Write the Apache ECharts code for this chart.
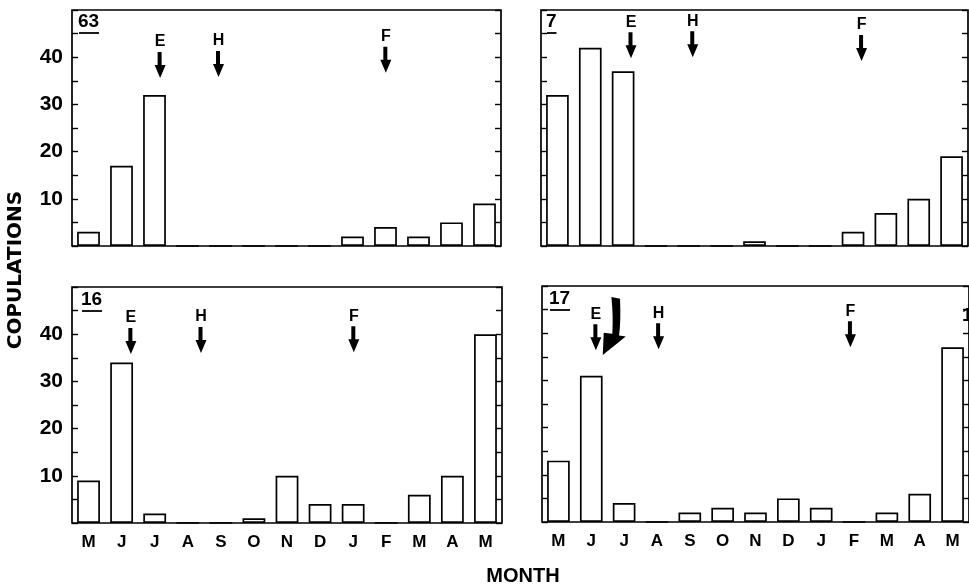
<!DOCTYPE html>
<html>
<head>
<meta charset="utf-8">
<script src="https://cdn.jsdelivr.net/npm/echarts@6/dist/echarts.min.js"></script>
<style>
html, body { margin: 0; padding: 0; background: #fff; }
#main { width: 969px; height: 587px; }
</style>
</head>
<body>
<div id="main"></div>
<script>
// months, May to May
var months = ['M', 'J', 'J', 'A', 'S', 'O', 'N', 'D', 'J', 'F', 'M', 'A', 'M'];

// copulations per month, one array per animal
var counts63 = [3, 17, 32, 0, 0, 0, 0, 0, 2, 4, 2, 5, 9];
var counts7 = [32, 42, 37, 0, 0, 0, 1, 0, 0, 3, 7, 10, 19];
var counts16 = [9, 34, 2, 0, 0, 1, 10, 4, 4, 0, 6, 10, 40];
var counts17 = [13, 31, 4, 0, 2, 3, 2, 5, 3, 0, 2, 6, 37];

var yTicks = [10, 20, 30, 40];
var panelNames = ['63', '7', '16', '17'];

// E, H, F arrows: [position in months from left frame, value of arrow tip]
var letters = ['E', 'H', 'F'];
var arrows63 = [[2.67, 35.6], [4.44, 35.8], [9.51, 36.7]];
var arrows7 = [[2.74, 39.8], [4.62, 40.0], [9.76, 39.2]];
var arrows16 = [[1.78, 35.8], [3.90, 36.0], [8.52, 36.2]];
var arrows17 = [[1.64, 36.4], [3.55, 36.6], [9.39, 37.0]];
var bigArrow17 = [[1.85, 35.4]];

var allCounts = [counts63, counts7, counts16, counts17];
var allArrows = [arrows63, arrows7, arrows16, arrows17];

var font = 'Liberation Sans, Arial, sans-serif';
var arrowPath = 'path://M3,0 L7,0 L7,13 L11,13 L5.5,26 L0,13 L3,13 Z';
var curvedPath = 'path://M9,0 L18,2 Q19,26 17,40 L24,41 L0,60 L1,37 L10,38 Q11,18 9,0 Z';

var myChart = echarts.init(document.getElementById('main'));

var grids = [
    {left: 72, top: 10, width: 429, height: 236},
    {left: 541, top: 10, width: 427, height: 236},
    {left: 72, top: 287, width: 430, height: 236},
    {left: 542, top: 286, width: 429, height: 236}
];

var xAxes = [], yAxes = [], series = [];
for (var g = 0; g < 4; g++) {
    grids[g].show = true;
    grids[g].borderColor = '#000';
    grids[g].borderWidth = 1.7;
    grids[g].backgroundColor = 'transparent';

    xAxes.push({
        type: 'category',
        gridIndex: g,
        data: months,
        axisLine: {show: false},
        axisTick: {show: false},
        axisLabel: {
            show: g >= 2,
            color: '#000',
            fontFamily: font,
            fontWeight: 'bold',
            fontSize: 17,
            margin: 11
        }
    });
    // hidden value axis used to place the arrow annotations
    xAxes.push({
        type: 'value',
        gridIndex: g,
        min: 0,
        max: 13,
        show: false
    });

    var sides = ['left', 'right'];
    for (var s = 0; s < 2; s++) {
        yAxes.push({
            type: 'value',
            gridIndex: g,
            position: sides[s],
            min: 0,
            max: 50,
            interval: 10,
            axisLine: {show: false},
            axisTick: {show: true, inside: true, length: 6, lineStyle: {color: '#000', width: 1.4}},
            minorTick: {show: true, splitNumber: 2, length: 6, lineStyle: {color: '#000', width: 1.4}},
            splitLine: {show: false},
            axisLabel: {
                show: s == 0 && (g == 0 || g == 2),
                color: '#000',
                fontFamily: font,
                fontWeight: 'bold',
                fontSize: 21,
                margin: 9,
                formatter: function (v) {
                    return yTicks.indexOf(v) >= 0 ? String(v) : '';
                }
            }
        });
    }

    series.push({
        type: 'bar',
        xAxisIndex: 2 * g,
        yAxisIndex: 2 * g,
        data: allCounts[g],
        barWidth: '69%',
        itemStyle: {color: '#fff', borderColor: '#000', borderWidth: 1.7},
        silent: true
    });

    var pts = [];
    for (var i = 0; i < allArrows[g].length; i++) {
        pts.push({value: allArrows[g][i], name: letters[i]});
    }
    series.push({
        type: 'scatter',
        xAxisIndex: 2 * g + 1,
        yAxisIndex: 2 * g,
        data: pts,
        symbol: arrowPath,
        symbolSize: [11, 26],
        symbolOffset: [0, '-50%'],
        itemStyle: {color: '#000', opacity: 1},
        label: {
            show: true,
            position: 'top',
            distance: 2,
            formatter: '{b}',
            color: '#000',
            fontFamily: font,
            fontWeight: 'bold',
            fontSize: 16
        },
        silent: true
    });
}

// the large curved arrow in panel 17
series.push({
    type: 'scatter',
    xAxisIndex: 7,
    yAxisIndex: 6,
    data: bigArrow17,
    symbol: curvedPath,
    symbolSize: [23, 58],
    symbolOffset: ['50%', '-50%'],
    itemStyle: {color: '#000', opacity: 1},
    silent: true
});

// panel numbers with underlines
var graphics = [];
var labelPos = [[78, 12], [546, 12], [81, 290], [549, 289]];
for (var p = 0; p < 4; p++) {
    graphics.push({
        type: 'text',
        left: labelPos[p][0],
        top: labelPos[p][1],
        style: {text: panelNames[p], fill: '#000', font: 'bold 19px ' + font}
    });
    var w = panelNames[p].length * 10.5;
    graphics.push({
        type: 'line',
        shape: {x1: labelPos[p][0] + 1, y1: labelPos[p][1] + 21, x2: labelPos[p][0] + w, y2: labelPos[p][1] + 21},
        style: {stroke: '#000', lineWidth: 1.8}
    });
}
// cut off number at the right edge
graphics.push({
    type: 'text', left: 962, top: 306,
    style: {text: '1', fill: '#000', font: 'bold 19px ' + font}
});

graphics.push({
    type: 'text',
    x: 16,
    y: 270,
    rotation: Math.PI / 2,
    style: {text: 'COPULATIONS', fill: '#000', font: 'bold 20px DejaVu Sans, sans-serif', align: 'center', verticalAlign: 'middle'}
});
graphics.push({
    type: 'text',
    x: 523,
    y: 576,
    style: {text: 'MONTH', fill: '#000', font: 'bold 20px ' + font, align: 'center', verticalAlign: 'middle'}
});

var option = {
    backgroundColor: '#fff',
    animation: false,
    grid: grids,
    xAxis: xAxes,
    yAxis: yAxes,
    series: series,
    graphic: graphics
};

myChart.setOption(option);
</script>
</body>
</html>
